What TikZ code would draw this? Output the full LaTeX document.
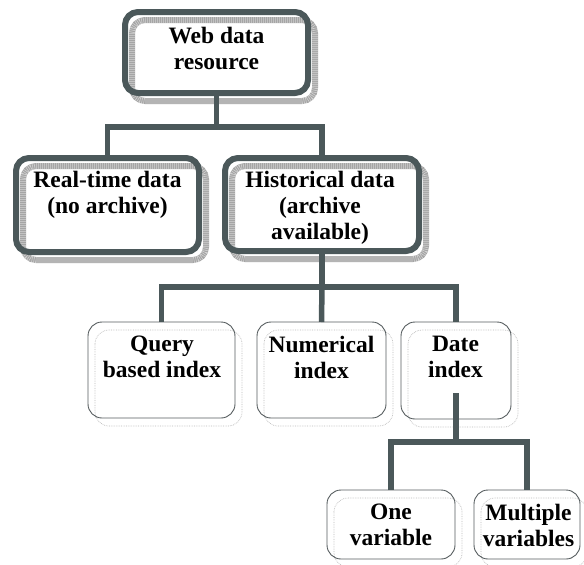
\documentclass[tikz,border=0pt]{standalone}
\usepackage{fontspec}
\setmainfont{Liberation Serif}
\usetikzlibrary{backgrounds}
\definecolor{boxdark}{RGB}{75,88,90}
\definecolor{thinline}{RGB}{85,92,94}
\definecolor{shadowgray}{RGB}{165,165,165}
\begin{document}
\begin{tikzpicture}[x=1pt,y=-1pt,
  thickbox/.style={draw=boxdark, line width=6pt, rounded corners=13pt, inner sep=0pt, outer sep=0pt},
  thinbox/.style={draw=thinline, line width=0.9pt, rounded corners=14pt, inner sep=0pt, outer sep=0pt},
  thickshadow/.style={draw=shadowgray, line width=6pt, rounded corners=13pt},
  shadowspeck/.style={draw=white, line width=6pt, rounded corners=13pt, dash pattern=on 0.6pt off 1.4pt, opacity=0.5},
  thinshadow/.style={draw=gray!55, line width=0.7pt, densely dotted, rounded corners=14pt},
  lbl/.style={font=\bfseries\fontsize{23.5}{26}\selectfont, align=center, inner sep=0pt, anchor=north},
  conn/.style={draw=boxdark, line width=5.5pt}]
\useasboundingbox (0,0) rectangle (584,565);
% boxes
\node[thickbox, minimum width=183pt, minimum height=81pt] (web) at (216.5,52.5) {};
\node[thickbox, minimum width=183pt, minimum height=94pt] (real) at (107.5,205) {};
\node[thickbox, minimum width=194pt, minimum height=93pt] (hist) at (322,204.5) {};
\node[thinbox, minimum width=147pt, minimum height=96pt] (query) at (161.5,370) {};
\node[thinbox, minimum width=129pt, minimum height=96pt] (num) at (321.5,370) {};
\node[thinbox, minimum width=110pt, minimum height=97pt] (date) at (456,370.5) {};
\node[thinbox, minimum width=128pt, minimum height=69pt] (one) at (391,524.5) {};
\node[thinbox, minimum width=106pt, minimum height=69pt] (multi) at (527,524.5) {};
% labels
\node[lbl] (web-t) at (216.5,27) {Web data\\resource};
\node[lbl] (real-t) at (107.5,171) {Real-time data\\(no archive)};
\node[lbl] (hist-t) at (320,171) {Historical data\\(archive\\available)};
\node[lbl] (query-t) at (162,336) {Query\\based index};
\node[lbl] (num-t) at (321.5,336) {Numerical\\index};
\node[lbl] (date-t) at (455.5,336) {Date\\index};
\node[lbl] (one-t) at (391,504) {One\\variable};
\node[lbl] (multi-t) at (528.5,504) {Multiple\\variables};
% shadows
\begin{scope}[on background layer]
  \foreach \n in {web,real,hist}{
    \draw[thickshadow] ([shift={(7,8)}]\n.north west) rectangle ([shift={(7,8)}]\n.south east);
    \draw[shadowspeck] ([shift={(7,8)}]\n.north west) rectangle ([shift={(7,8)}]\n.south east);
  }
  \foreach \n in {query,num,date,one,multi}
    \draw[thinshadow] ([shift={(7,8)}]\n.north west) rectangle ([shift={(7,8)}]\n.south east);
\end{scope}
% connectors
\coordinate (j1) at (216.5,127);
\coordinate (j2) at (322,287);
\coordinate (dtop) at (456,393);
\coordinate (j3) at (456,442);
\draw[conn] (web.south) -- (j1);
\draw[conn] (real.north) |- (j1) -| (hist.north);
\draw[conn] (hist.south) -- (j2);
\draw[conn] (query.north) |- (j2) -| (date.north);
\draw[conn] (j2) -- (num.north);
\draw[conn] (dtop) -- (j3);
\draw[conn] (one.north) |- (j3) -| (multi.north);
\end{tikzpicture}
\end{document}
